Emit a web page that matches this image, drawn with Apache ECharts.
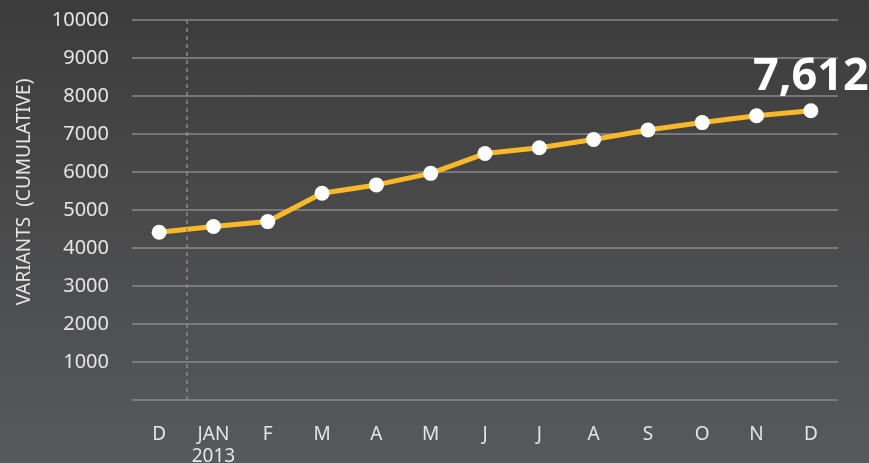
<!DOCTYPE html>
<html>
<head>
<meta charset="utf-8">
<script src="https://cdn.jsdelivr.net/npm/echarts@6/dist/echarts.min.js"></script>
<style>
  html, body { margin: 0; padding: 0; }
  #chart { width: 869px; height: 463px; background: linear-gradient(#3c3c3c, #58595b); }
</style>
</head>
<body>
<div id="chart"></div>
<script>
var months = ['D', 'JAN\n2013', 'F', 'M', 'A', 'M', 'J', 'J', 'A', 'S', 'O', 'N', 'D'];
var variants = [4415, 4565, 4695, 5440, 5660, 5965, 6485, 6640, 6855, 7105, 7300, 7480, 7612];
var yMax = 10000;
var yStep = 1000;
var yearBreak = 1; // boundary before JAN 2013

var chart = echarts.init(document.getElementById('chart'));

// label only the last point
var points = variants.map(function (v, i) {
    if (i === variants.length - 1) {
        return { value: v, label: { show: true } };
    }
    return v;
});

var textColor = '#e6e6e6';

var option = {
    backgroundColor: 'transparent',
    grid: { left: 132, right: 31, top: 20, bottom: 63, outerBoundsMode: 'none' },
    xAxis: [{
        type: 'category',
        data: months,
        boundaryGap: true,
        axisLine: { show: false },
        axisTick: { show: false },
        splitLine: { show: false },
        axisLabel: {
            interval: 0,
            color: textColor,
            fontFamily: 'Noto Sans',
            fontSize: 19,
            lineHeight: 22,
            margin: 24
        }
    }, {
        // hidden band-index axis, used only for the year divider
        type: 'value',
        min: 0,
        max: months.length,
        show: false
    }],
    yAxis: {
        type: 'value',
        min: 0,
        max: yMax,
        interval: yStep,
        name: 'VARIANTS  (CUMULATIVE)',
        nameLocation: 'middle',
        nameGap: 98,
        nameTextStyle: {
            color: textColor,
            fontFamily: 'Noto Sans',
            fontSize: 19,
            padding: [0, 0, 0, 36]
        },
        axisLine: { show: false },
        axisTick: { show: false },
        axisLabel: {
            color: textColor,
            fontFamily: 'Noto Sans',
            fontSize: 20,
            margin: 23,
            formatter: function (v) { return v === 0 ? '' : v; }
        },
        splitLine: { lineStyle: { color: '#8a8a8a', width: 1.5 } }
    },
    series: [{
        type: 'line',
        data: points,
        symbol: 'circle',
        symbolSize: 15,
        lineStyle: { color: '#fbb829', width: 5 },
        itemStyle: { color: '#ffffff' },
        label: {
            show: false,
            position: 'top',
            distance: 4,
            color: '#ffffff',
            fontFamily: 'Noto Sans',
            fontWeight: 'bold',
            fontSize: 45,
            formatter: function (p) { return p.value.toLocaleString('en-US'); }
        },
        z: 3
    }, {
        type: 'line',
        xAxisIndex: 1,
        data: [],
        silent: true,
        markLine: {
            silent: true,
            symbol: 'none',
            label: { show: false },
            lineStyle: { color: '#8a8a8a', type: [4, 4], width: 1.5 },
            data: [{ xAxis: yearBreak }]
        }
    }]
};

chart.setOption(option);
</script>
</body>
</html>
